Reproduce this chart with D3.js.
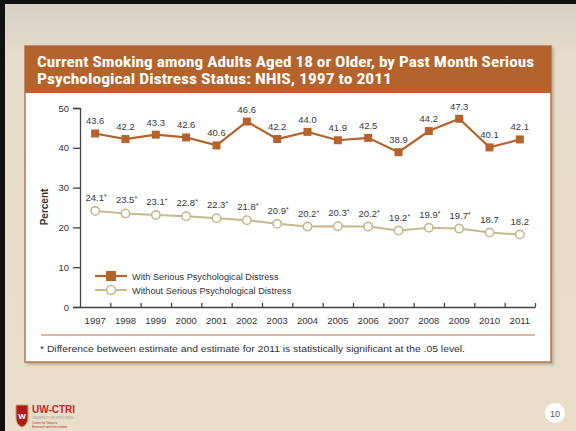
<!DOCTYPE html>
<html>
<head>
<meta charset="utf-8">
<script src="https://cdn.jsdelivr.net/npm/d3@7"></script>
<style>
  body { margin: 0; padding: 0; overflow: hidden; }
  svg { display: block; font-family: "Liberation Sans", Arial, sans-serif; }
  .tick text { fill: #333; }
</style>
</head>
<body>
<div id="chart"></div>
<script>
const width = 576;
const height = 431;

const years = ['1997', '1998', '1999', '2000', '2001', '2002', '2003', '2004',
  '2005', '2006', '2007', '2008', '2009', '2010', '2011'];
const withDistress = [43.6, 42.2, 43.3, 42.6, 40.6, 46.6, 42.2, 44.0, 41.9, 42.5, 38.9, 44.2, 47.3, 40.1, 42.1];
const withoutDistress = [24.1, 23.5, 23.1, 22.8, 22.3, 21.8, 20.9, 20.2, 20.3, 20.2, 19.2, 19.9, 19.7, 18.7, 18.2];
const withoutSignificant = [true, true, true, true, true, true, true, true, true, true, true, true, true, false, false];
const yTicks = [0, 10, 20, 30, 40, 50];
const seriesNames = ['With Serious Psychological Distress', 'Without Serious Psychological Distress'];

const titleLines = ['Current Smoking among Adults Aged 18 or Older, by Past Month Serious',
  'Psychological Distress Status: NHIS, 1997 to 2011'];
const footnote = '* Difference between estimate and estimate for 2011 is statistically significant at the .05 level.';

const brown = '#b5632c';
const khaki = '#c7b98c';

const svg = d3.select('#chart')
  .append('svg')
  .attr('width', width)
  .attr('height', height);

const defs = svg.append('defs');
const bg = defs.append('linearGradient')
  .attr('id', 'bg')
  .attr('x1', 0).attr('y1', 0).attr('x2', 0).attr('y2', 1);
bg.append('stop').attr('offset', '0%').attr('stop-color', '#d6d0c6');
bg.append('stop').attr('offset', '12%').attr('stop-color', '#e6dccb');
bg.append('stop').attr('offset', '100%').attr('stop-color', '#e9dec8');

const shadow = defs.append('filter').attr('id', 'shadow')
  .attr('x', '-5%').attr('y', '-5%').attr('width', '110%').attr('height', '115%');
shadow.append('feDropShadow')
  .attr('dx', 2).attr('dy', 2).attr('stdDeviation', 1.5)
  .attr('flood-color', '#8a7a66').attr('flood-opacity', 0.5);

/* slide background */
svg.append('rect').attr('width', width).attr('height', height).attr('fill', '#111');
svg.append('rect').attr('x', 5).attr('y', 4).attr('width', width - 5).attr('height', height - 4)
  .attr('fill', 'url(#bg)');

/* panel */
const panel = { left: 25, top: 46, right: 551, bottom: 362, header: 93 };
svg.append('rect')
  .attr('x', panel.left).attr('y', panel.top)
  .attr('width', panel.right - panel.left).attr('height', panel.bottom - panel.top)
  .attr('fill', '#fff')
  .attr('stroke', '#b87650').attr('stroke-width', 1.5)
  .attr('filter', 'url(#shadow)');
svg.append('rect')
  .attr('x', panel.left).attr('y', panel.top)
  .attr('width', panel.right - panel.left).attr('height', panel.header - panel.top)
  .attr('fill', brown);

svg.selectAll('.title')
  .data(titleLines)
  .enter()
  .append('text')
  .attr('class', 'title')
  .attr('x', 37)
  .attr('y', (d, i) => 67 + i * 16.5)
  .attr('fill', '#fff')
  .style('font-size', '14.5px')
  .style('font-weight', 'bold')
  .style('font-family', '"Liberation Sans Narrow", "Roboto Condensed", Arial, sans-serif')
  .attr('textLength', (d, i) => (i === 0 ? 497 : 355))
  .attr('lengthAdjust', 'spacingAndGlyphs')
  .text(d => d);

/* scales */
const x = d3.scaleBand().domain(years).range([80, 535]).padding(0);
const y = d3.scaleLinear().domain([0, 50]).range([307, 108]);
const bounds = d3.scaleLinear().domain([0, years.length]).range([80, 535]);

/* axes */
const yAxis = d3.axisLeft(y).tickValues(yTicks).tickSize(7).tickPadding(4);
svg.append('g')
  .attr('class', 'axis')
  .attr('transform', 'translate(80, 0)')
  .call(yAxis)
  .call(g => g.selectAll('.tick text').style('font-size', '9.5px'))
  .call(g => g.selectAll('line, path').attr('stroke', '#444').attr('stroke-width', 1.3));

svg.append('g')
  .attr('transform', 'translate(0, 307)')
  .call(d3.axisBottom(bounds).tickValues(d3.range(1, years.length + 1)).tickSize(-4).tickSizeOuter(0).tickFormat(''))
  .call(g => g.selectAll('line, path').attr('stroke', '#444').attr('stroke-width', 1.3));

svg.append('g')
  .attr('transform', 'translate(0, 307)')
  .call(d3.axisBottom(x).tickSize(0).tickPadding(10))
  .call(g => g.select('.domain').remove())
  .call(g => g.selectAll('.tick text').style('font-size', '9.5px'));

svg.append('text')
  .attr('transform', 'translate(48, 207) rotate(-90)')
  .attr('text-anchor', 'middle')
  .attr('fill', '#333')
  .style('font-size', '10px')
  .style('font-weight', 'bold')
  .style('font-family', '"Liberation Sans Narrow", Arial, sans-serif')
  .text('Percent');

/* lines */
const cx = (d, i) => x(years[i]) + x.bandwidth() / 2;
const line = d3.line().x(cx).y(d => y(d));

svg.append('path')
  .datum(withoutDistress)
  .attr('d', line)
  .attr('fill', 'none')
  .attr('stroke', khaki)
  .attr('stroke-width', 2);

svg.append('path')
  .datum(withDistress)
  .attr('d', line)
  .attr('fill', 'none')
  .attr('stroke', brown)
  .attr('stroke-width', 2.2);

svg.selectAll('.sq')
  .data(withDistress)
  .enter()
  .append('rect')
  .attr('class', 'sq')
  .attr('x', (d, i) => cx(d, i) - 4)
  .attr('y', d => y(d) - 4)
  .attr('width', 8)
  .attr('height', 8)
  .attr('fill', brown);

svg.selectAll('.circ')
  .data(withoutDistress)
  .enter()
  .append('circle')
  .attr('class', 'circ')
  .attr('cx', cx)
  .attr('cy', d => y(d))
  .attr('r', 4.2)
  .attr('fill', '#fff')
  .attr('stroke', khaki)
  .attr('stroke-width', 1.6);

/* value labels */
svg.selectAll('.lab1')
  .data(withDistress)
  .enter()
  .append('text')
  .attr('x', cx)
  .attr('y', d => y(d) - 9)
  .attr('text-anchor', 'middle')
  .attr('fill', '#3a3a3a')
  .style('font-size', '9.5px')
  .text(d => d.toFixed(1));

const lab2 = svg.selectAll('.lab2')
  .data(withoutDistress)
  .enter()
  .append('text')
  .attr('x', (d, i) => cx(d, i) + (withoutSignificant[i] ? 1 : 0))
  .attr('y', d => y(d) - 10)
  .attr('text-anchor', 'middle')
  .attr('fill', '#3a3a3a')
  .style('font-size', '9.5px');
lab2.append('tspan').text(d => d.toFixed(1));
lab2.append('tspan')
  .attr('dy', -2)
  .style('font-size', '7px')
  .text((d, i) => (withoutSignificant[i] ? '*' : ''));

/* legend */
const legend = svg.append('g').attr('transform', 'translate(95, 276)');
legend.append('line').attr('x1', 0).attr('x2', 32).attr('y1', 0).attr('y2', 0)
  .attr('stroke', brown).attr('stroke-width', 2.2);
legend.append('rect').attr('x', 11).attr('y', -5).attr('width', 10).attr('height', 10).attr('fill', brown);
legend.append('line').attr('x1', 0).attr('x2', 32).attr('y1', 14).attr('y2', 14)
  .attr('stroke', khaki).attr('stroke-width', 2);
legend.append('circle').attr('cx', 16).attr('cy', 14).attr('r', 4.5)
  .attr('fill', '#fff').attr('stroke', khaki).attr('stroke-width', 1.6);
legend.selectAll('.leg')
  .data(seriesNames)
  .enter()
  .append('text')
  .attr('x', 37)
  .attr('y', (d, i) => 3.5 + i * 14)
  .attr('fill', '#333')
  .style('font-size', '9.2px')
  .text(d => d);

/* rule and footnote */
svg.append('line')
  .attr('x1', 41).attr('x2', 535).attr('y1', 335).attr('y2', 335)
  .attr('stroke', '#d2a07e').attr('stroke-width', 1.5);
svg.append('text')
  .attr('x', 40).attr('y', 352)
  .attr('fill', '#333')
  .style('font-size', '9.5px')
  .attr('textLength', 425)
  .attr('lengthAdjust', 'spacingAndGlyphs')
  .text(footnote);

/* logo and page number */
const logo = svg.append('g').attr('transform', 'translate(12, 403)');
logo.append('path')
  .attr('d', 'M4,2 L16,2 L16,14 Q16,22 10,24 Q4,22 4,14 Z')
  .attr('fill', '#b01c1c').attr('stroke', '#c8a060').attr('stroke-width', 1);
logo.append('text').attr('x', 10).attr('y', 16).attr('text-anchor', 'middle')
  .attr('fill', '#fff').style('font-size', '8px').style('font-weight', 'bold').text('W');
logo.append('text').attr('x', 20).attr('y', 10)
  .attr('fill', '#c0282d').style('font-size', '10px').style('font-weight', 'bold')
  .style('font-family', '"Liberation Sans Narrow", Arial, sans-serif')
  .text('UW-CTRI');
logo.append('text').attr('x', 20).attr('y', 16)
  .attr('fill', '#999').style('font-size', '3px').text('UNIVERSITY OF WISCONSIN');
logo.append('text').attr('x', 20).attr('y', 21)
  .attr('fill', '#c0282d').style('font-size', '3px').text('Center for Tobacco');
logo.append('text').attr('x', 20).attr('y', 25)
  .attr('fill', '#c0282d').style('font-size', '3px').text('Research and Intervention');

svg.append('circle').attr('cx', 555).attr('cy', 413).attr('r', 10).attr('fill', '#fff');
svg.append('text').attr('x', 555).attr('y', 416.5).attr('text-anchor', 'middle')
  .attr('fill', '#555').style('font-size', '9px').text('10');
</script>
</body>
</html>
